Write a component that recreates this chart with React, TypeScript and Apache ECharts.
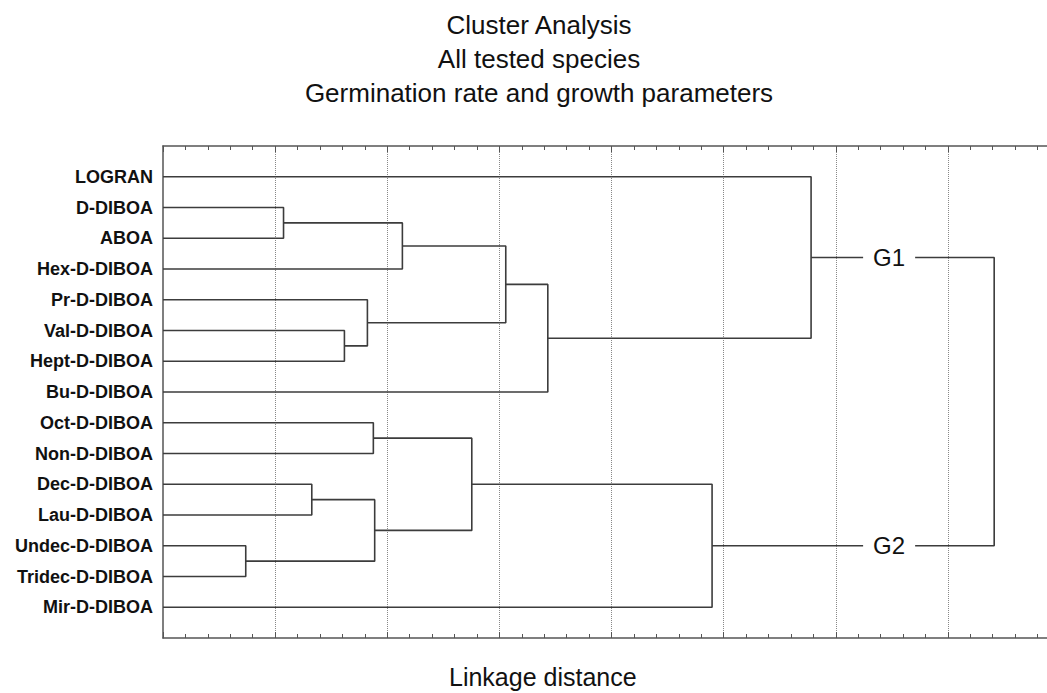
import React, { useEffect, useRef } from "react";
import * as echarts from "echarts";

// Leaves of the dendrogram, top to bottom
const leaves: string[] = [
  "LOGRAN",
  "D-DIBOA",
  "ABOA",
  "Hex-D-DIBOA",
  "Pr-D-DIBOA",
  "Val-D-DIBOA",
  "Hept-D-DIBOA",
  "Bu-D-DIBOA",
  "Oct-D-DIBOA",
  "Non-D-DIBOA",
  "Dec-D-DIBOA",
  "Lau-D-DIBOA",
  "Undec-D-DIBOA",
  "Tridec-D-DIBOA",
  "Mir-D-DIBOA",
];

// Merges: [childA, childB, linkage distance]; node ids 0..14 are leaves, 15.. are merges in order
const mergeA: number[] = [12, 1, 10, 5, 4, 8, 17, 16, 20, 22, 24, 0, 23, 26];
const mergeB: number[] = [13, 2, 11, 6, 18, 9, 15, 3, 21, 19, 7, 25, 14, 27];
const mergeH: number[] = [0.738, 1.075, 1.327, 1.618, 1.823, 1.876, 1.888, 2.135, 2.754, 3.057, 3.432, 5.78, 4.897, 7.413];

// Group labels: node id, label text, x position of label
const groupNodes: number[] = [26, 27];
const groupNames: string[] = ["G1", "G2"];
const groupLabelX = 6.476;

const titleLines: string[] = ["Cluster Analysis", "All tested species", "Germination rate and growth parameters"];
const axisName = "Linkage distance";

const FONT = "'Liberation Sans', Arial, Helvetica, sans-serif";

export default function App() {
  const ref = useRef<HTMLDivElement>(null);

  useEffect(() => {
    if (!ref.current) return;
    const chart = echarts.init(ref.current, undefined, { renderer: "svg" });

    const nodeY: number[] = leaves.map((_, i) => i);
    const nodeH: number[] = leaves.map(() => 0);
    const series: any[] = [];
    const lineColor = "#3c3c3c";
    mergeA.forEach((a, k) => {
      const b = mergeB[k];
      const h = mergeH[k];
      const ya = nodeY[a];
      const yb = nodeY[b];
      nodeY.push((ya + yb) / 2);
      nodeH.push(h);
      series.push({
        type: "line",
        data: [
          [nodeH[a], ya],
          [h, ya],
          [h, yb],
          [nodeH[b], yb],
        ],
        symbol: "none",
        showSymbol: false,
        silent: true,
        z: 3,
        lineStyle: { color: lineColor, width: 1.6 },
      });
    });

    series.push({
      type: "scatter",
      data: groupNodes.map((n) => [groupLabelX, nodeY[n]]),
      symbolSize: 2,
      itemStyle: { color: "#fff", opacity: 1 },
      silent: true,
      z: 5,
      label: {
        show: true,
        position: "inside",
        formatter: (p: any) => groupNames[p.dataIndex],
        fontFamily: FONT,
        fontSize: 24,
        color: "#111",
        opacity: 1,
        textBorderWidth: 0,
        textBorderColor: "transparent",
        backgroundColor: "#fff",
        padding: [2, 10],
      },
    });

    const xAxisBase = {
      type: "value",
      min: 0,
      max: 8,
      interval: 1,
      axisLabel: { show: false },
      axisLine: { show: true, onZero: false, lineStyle: { color: "#555", width: 1.5 } },
      axisTick: { show: true, inside: true, length: 6, lineStyle: { color: "#555", width: 1 } },
      minorTick: { show: true, splitNumber: 5, length: 4, lineStyle: { color: "#555", width: 1 } },
      minorSplitLine: { show: false },
    };

    chart.setOption({
      animation: false,
      backgroundColor: "#fff",
      title: {
        text: titleLines.join("\n"),
        left: 534,
        top: 3,
        textAlign: "center",
        textStyle: {
          fontFamily: FONT,
          fontSize: 26,
          fontWeight: "normal",
          color: "#111",
          lineHeight: 34,
        },
      },
      grid: { left: 163, right: 0, top: 146, bottom: 55, containLabel: false },
      xAxis: [
        {
          ...xAxisBase,
          position: "bottom",
          splitLine: {
            show: true,
            showMinLine: false,
            showMaxLine: false,
            lineStyle: { color: "#888", width: 1, type: "dotted" },
          },
        },
        {
          ...xAxisBase,
          position: "top",
          splitLine: { show: false },
        },
      ],
      yAxis: {
        type: "value",
        inverse: true,
        min: -1,
        max: 15,
        interval: 1,
        axisLine: { show: true, onZero: false, lineStyle: { color: "#555", width: 1.5 } },
        axisTick: { show: false },
        splitLine: { show: false },
        axisLabel: {
          show: true,
          margin: 10,
          fontFamily: FONT,
          fontSize: 18,
          fontWeight: "bold",
          color: "#111",
          formatter: (v: number) => {
            const i = Math.round(v);
            return leaves[i] !== undefined ? leaves[i] : "";
          },
        },
      },
      graphic: [
        {
          type: "text",
          left: 543 - 94,
          top: 664,
          style: {
            text: axisName,
            font: `25px ${FONT}`,
            fill: "#111",
          },
        },
      ],
      series,
    });

    return () => chart.dispose();
  }, []);

  return (
    <div
      style={{
        position: "fixed",
        left: 0,
        top: 0,
        width: 1047,
        height: 693,
        overflow: "hidden",
        background: "#fff",
      }}
    >
      <div ref={ref} style={{ width: 1060, height: 693 }} />
    </div>
  );
}
